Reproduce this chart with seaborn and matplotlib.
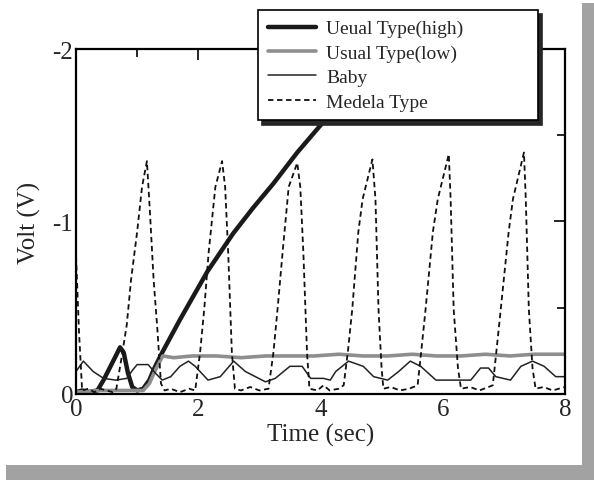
import numpy as np
import pandas as pd
import matplotlib
matplotlib.use("Agg")
import matplotlib.pyplot as plt
from matplotlib.patches import Rectangle
from matplotlib.ticker import MultipleLocator
import seaborn as sns

# data (time in sec, voltage in V)
high_t = [0.0, 0.1, 0.2, 0.35, 0.45, 0.55, 0.65, 0.72, 0.78, 0.85, 0.92, 1.0, 1.1,
          1.2, 1.27, 1.41, 1.7, 2.15, 2.57, 2.9, 3.23, 3.62, 4.03, 4.4]
high_v = [-0.01, -0.02, -0.01, -0.02, -0.08, -0.15, -0.22, -0.27, -0.24, -0.12, -0.04, -0.02, -0.03,
          -0.08, -0.14, -0.24, -0.43, -0.71, -0.93, -1.08, -1.22, -1.40, -1.57, -1.75]

low_t = [0.0, 0.4, 0.8, 1.1, 1.2, 1.3, 1.42, 1.6, 1.9, 2.3, 2.7, 3.1, 3.5, 3.9, 4.3, 4.7,
         5.1, 5.5, 5.9, 6.3, 6.7, 7.1, 7.5, 8.0]
low_v = [-0.01, -0.02, -0.02, -0.02, -0.06, -0.14, -0.22, -0.21, -0.22, -0.22, -0.21, -0.22, -0.22, -0.22, -0.23, -0.22,
         -0.22, -0.23, -0.22, -0.22, -0.23, -0.22, -0.23, -0.23]

baby_t = [0.0, 0.12, 0.28, 0.45, 0.65, 0.83, 0.93, 1.0, 1.18, 1.3, 1.41, 1.55, 1.7, 1.84, 1.95,
          2.16, 2.36, 2.58, 2.77, 3.1, 3.26, 3.5, 3.7, 3.84, 4.05, 4.16, 4.25, 4.46, 4.7, 4.87,
          5.1, 5.28, 5.47, 5.64, 5.89, 6.13, 6.46, 6.62, 6.75, 6.87, 7.11, 7.28, 7.47, 7.66, 7.85, 8.0]
baby_v = [-0.13, -0.19, -0.13, -0.09, -0.08, -0.09, -0.14, -0.17, -0.17, -0.12, -0.08, -0.10, -0.16, -0.19, -0.16,
          -0.08, -0.10, -0.19, -0.13, -0.07, -0.09, -0.16, -0.16, -0.09, -0.09, -0.08, -0.13, -0.19, -0.16, -0.10,
          -0.08, -0.13, -0.19, -0.16, -0.08, -0.08, -0.08, -0.15, -0.15, -0.10, -0.08, -0.16, -0.19, -0.16, -0.10, -0.10]

medela_t = [0.0, 0.05, 0.10, 0.2, 0.3, 0.4, 0.5, 0.6, 0.66, 0.75, 0.83, 0.90, 1.00, 1.08, 1.16,
            1.21, 1.27, 1.33, 1.39, 1.45, 1.55, 1.7, 1.85, 1.95, 2.03, 2.10, 2.17, 2.28, 2.39,
            2.44, 2.49, 2.55, 2.60, 2.7, 2.85, 3.0, 3.15, 3.23, 3.30, 3.38, 3.48, 3.62, 3.67,
            3.72, 3.78, 3.82, 3.95, 4.05, 4.15, 4.3, 4.38, 4.45, 4.52, 4.62, 4.69, 4.85, 4.90,
            4.95, 5.00, 5.03, 5.15, 5.3, 5.45, 5.59, 5.65, 5.72, 5.84, 5.92, 6.10, 6.13, 6.18,
            6.25, 6.30, 6.45, 6.6, 6.75, 6.82, 6.88, 6.95, 7.08, 7.15, 7.33, 7.36, 7.41, 7.47,
            7.52, 7.65, 7.8, 8.0]
medela_v = [-0.80, -0.35, -0.02, -0.03, -0.01, -0.03, -0.02, -0.01, -0.03, -0.22, -0.40, -0.66, -0.94, -1.20, -1.35,
            -1.05, -0.66, -0.38, -0.06, -0.02, -0.03, -0.01, -0.03, -0.02, -0.24, -0.50, -0.82, -1.20, -1.35,
            -1.20, -0.82, -0.24, -0.03, -0.02, -0.04, -0.02, -0.03, -0.24, -0.50, -0.82, -1.20, -1.34, -1.20,
            -0.82, -0.24, -0.03, -0.02, -0.05, -0.02, -0.03, -0.05, -0.25, -0.49, -0.94, -1.13, -1.36, -1.13,
            -0.49, -0.15, -0.03, -0.04, -0.02, -0.03, -0.05, -0.25, -0.49, -0.94, -1.13, -1.39, -1.13, -0.49,
            -0.15, -0.03, -0.04, -0.02, -0.04, -0.05, -0.25, -0.49, -0.94, -1.13, -1.40, -1.13, -0.49, -0.15,
            -0.03, -0.04, -0.02, -0.04]

labels = ["Ueual Type(high)", "Usual Type(low)", "Baby", "Medela Type"]

sns.set_theme(style="white")
plt.rcParams['font.family'] = ['Liberation Serif', 'DejaVu Serif']
plt.rcParams['axes.unicode_minus'] = False

fig = plt.figure(figsize=(5.94, 4.81), dpi=100)
ax = fig.add_axes([0.128, 0.179, 0.823, 0.717])

styles = [
    (high_t, high_v, dict(color="#1a1a1a", lw=3.2, ls="-")),
    (low_t, low_v, dict(color="#8e8e8e", lw=2.6, ls="-")),
    (baby_t, baby_v, dict(color="#222222", lw=1.1, ls="-")),
    (medela_t, medela_v, dict(color="#111111", lw=1.3, ls=(0, (3, 2)))),
]
for (t, v, kw), lab in zip(styles, labels):
    df = pd.DataFrame({"Time": t, "Volt": v})
    sns.lineplot(data=df, x="Time", y="Volt", ax=ax, label=lab,
                 color=kw["color"], linewidth=kw["lw"], linestyle=kw["ls"])

ax.set_xlim(0, 8)
ax.set_ylim(0, -2)
ax.set_xticks([0, 2, 4, 6, 8])
ax.set_yticks([-2, -1, 0])
ax.set_yticklabels(["-2", "-1", "0"])
ax.xaxis.set_minor_locator(MultipleLocator(1))
ax.yaxis.set_minor_locator(MultipleLocator(0.5))
ax.tick_params(which="both", direction="in", top=True, right=True, color="black", width=1.2)
ax.tick_params(which="major", length=8, labelsize=18)
ax.tick_params(which="minor", length=6)
ax.tick_params(axis="y", pad=2)
ax.tick_params(axis="x", pad=3)
for s in ax.spines.values():
    s.set_color("black")
    s.set_linewidth(1.6)

ax.set_xlabel("Time (sec)", fontsize=18, labelpad=2)
ax.set_ylabel("Volt (V)", fontsize=18, labelpad=8)

leg = ax.legend(loc="upper left", bbox_to_anchor=(258 / 594, 1 - 125 / 481, 280 / 594, 114 / 481),
                bbox_transform=fig.transFigure, mode="expand", fontsize=14, frameon=True,
                fancybox=False, shadow={"color": "0.15", "alpha": 1.0, "ox": 3, "oy": -3},
                handlelength=2.5, handletextpad=0.5, labelspacing=0.35, borderpad=0.5,
                borderaxespad=0)
leg.get_frame().set_edgecolor("black")
leg.get_frame().set_linewidth(1.2)
leg.set_zorder(10)

# drop shadow around the page
fig.patches.append(Rectangle((582 / 594, 0), 12 / 594, 477 / 481, transform=fig.transFigure,
                             facecolor="#a2a2a2", edgecolor="none"))
fig.patches.append(Rectangle((6 / 594, 0), 588 / 594, 15 / 481, transform=fig.transFigure,
                             facecolor="#a2a2a2", edgecolor="none"))

fig.savefig("out.png", dpi=100)
